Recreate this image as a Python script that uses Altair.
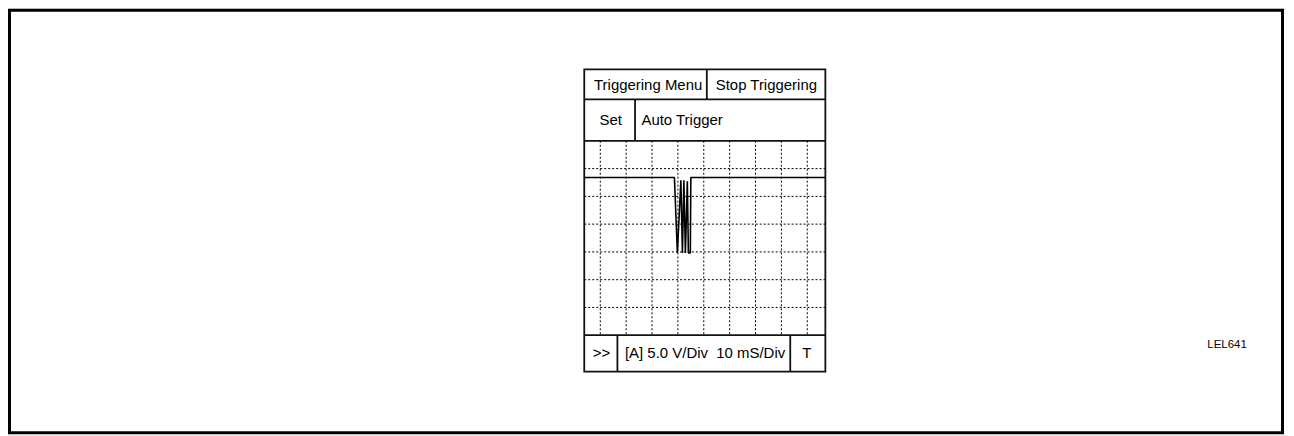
import altair as alt
import pandas as pd

# ---------------- data ----------------
# Oscilloscope trace: time (ms) and voltage (V)
trace_time_ms = [-36.2, -1.35, -0.2, 1.15, 1.75, 2.3, 2.9, 3.65, 4.05, 4.8, 5.0, 57.0]
trace_volts = [13.4, 13.4, -0.2, 12.9, -0.2, 12.9, -0.2, 12.7, -0.2, -0.2, 13.4, 13.4]

# Grid divisions (10 mS/Div, 5.0 V/Div)
time_divs_ms = [-30, -20, -10, 0, 10, 20, 30, 40, 50]
volt_divs = [15, 10, 5, 0, -5, -10]

# Texts
menu_labels = ["Triggering Menu", "Stop Triggering"]
mode_labels = ["Set", "Auto Trigger"]
status_labels = [">>", "[A] 5.0 V/Div\u00a0 10 mS/Div", "T"]
figure_code = "LEL641"

# ---------------- layout ----------------
W, H = 1282, 428
PX_MS = 2.595      # pixels per ms (25.95 px per 10 ms division)
PX_V = 5.572       # pixels per volt (27.86 px per 5 V division)
T0_X = 672         # chart x of t = 0
V0_Y = 244         # chart y of 0 V

x_dom = [(0 - T0_X) / PX_MS, (W - T0_X) / PX_MS]
y_dom = [(V0_Y - H) / PX_V, (V0_Y - 0) / PX_V]
xs = alt.Scale(domain=x_dom, nice=False, zero=False)
ys = alt.Scale(domain=y_dom, nice=False, zero=False)

# screen / panel extents in scope units
T_L, T_R = -36.2, 57.0
V_TOP, V_ROW1, V_GTOP, V_GBOT, V_BOT = 32.85, 27.45, 20.0, -15.0, -21.55
T_DIV_MENU, T_DIV_SET = 11.18, -16.57
T_DIV_F1, T_DIV_F2 = -23.39, 43.43

FONT = "Liberation Sans"
FS = 15
LW = 1.8

# grid dashed lines
vgrid = pd.DataFrame({"t": time_divs_ms, "t2": time_divs_ms,
                      "v": [V_GTOP] * len(time_divs_ms), "v2": [V_GBOT] * len(time_divs_ms)})
hgrid = pd.DataFrame({"t": [T_L] * len(volt_divs), "t2": [T_R] * len(volt_divs),
                      "v": volt_divs, "v2": volt_divs})

grid_v = alt.Chart(vgrid).mark_rule(strokeDash=[2, 2], strokeWidth=1, color="#000").encode(
    x=alt.X("t:Q", scale=xs, axis=None), x2="t2:Q",
    y=alt.Y("v:Q", scale=ys, axis=None), y2="v2:Q")
grid_h = alt.Chart(hgrid).mark_rule(strokeDash=[2, 2], strokeWidth=1, color="#000").encode(
    x=alt.X("t:Q", scale=xs, axis=None), x2="t2:Q",
    y=alt.Y("v:Q", scale=ys, axis=None), y2="v2:Q")

# solid panel lines
seg = pd.DataFrame({
    "t":  [T_L, T_L, T_L, T_DIV_MENU, T_DIV_SET, T_DIV_F1, T_DIV_F2],
    "t2": [T_R, T_R, T_R, T_DIV_MENU, T_DIV_SET, T_DIV_F1, T_DIV_F2],
    "v":  [V_ROW1, V_GTOP, V_GBOT, V_TOP, V_ROW1, V_GBOT, V_GBOT],
    "v2": [V_ROW1, V_GTOP, V_GBOT, V_ROW1, V_GTOP, V_BOT, V_BOT],
})
panel_lines = alt.Chart(seg).mark_rule(strokeWidth=LW, color="#111").encode(
    x=alt.X("t:Q", scale=xs, axis=None), x2="t2:Q",
    y=alt.Y("v:Q", scale=ys, axis=None), y2="v2:Q")

panel_box = alt.Chart(pd.DataFrame({"t": [T_L], "t2": [T_R], "v": [V_TOP], "v2": [V_BOT]})).mark_rect(
    fill=None, stroke="#111", strokeWidth=LW).encode(
    x=alt.X("t:Q", scale=xs, axis=None), x2="t2:Q",
    y=alt.Y("v:Q", scale=ys, axis=None), y2="v2:Q")

# trace
tr = pd.DataFrame({"t": trace_time_ms, "v": trace_volts, "i": list(range(len(trace_time_ms)))})
trace = alt.Chart(tr).mark_line(color="#000", strokeWidth=1.6, strokeJoin="bevel").encode(
    x=alt.X("t:Q", scale=xs, axis=None),
    y=alt.Y("v:Q", scale=ys, axis=None),
    order="i:Q")

# texts
txt_center = pd.DataFrame({
    "label": [menu_labels[0], menu_labels[1], mode_labels[0], status_labels[0], status_labels[1], status_labels[2]],
    "t": [-11.5, 34.2, -26.0, -29.5, 10.5, 49.8],
    "v": [30.1, 30.1, 23.69, -18.18, -18.18, -18.18],
})
texts_c = alt.Chart(txt_center).mark_text(font=FONT, fontSize=FS, color="#000",
                                          align="center", baseline="middle").encode(
    x=alt.X("t:Q", scale=xs, axis=None), y=alt.Y("v:Q", scale=ys, axis=None), text="label:N")

txt_left = pd.DataFrame({"label": [mode_labels[1]], "t": [-14.1], "v": [23.69]})
texts_l = alt.Chart(txt_left).mark_text(font=FONT, fontSize=FS, color="#000",
                                        align="left", baseline="middle").encode(
    x=alt.X("t:Q", scale=xs, axis=None), y=alt.Y("v:Q", scale=ys, axis=None), text="label:N")

code_df = pd.DataFrame({"label": [figure_code], "t": [212.3], "v": [-16.7]})
code_txt = alt.Chart(code_df).mark_text(font=FONT, fontSize=11.5, color="#000",
                                        align="center", baseline="middle").encode(
    x=alt.X("t:Q", scale=xs, axis=None), y=alt.Y("v:Q", scale=ys, axis=None), text="label:N")

# outer frame of the figure
frame = alt.Chart(pd.DataFrame({"k": [0]})).mark_rect(fill=None, stroke="#000", strokeWidth=3).encode(
    x=alt.value(1.5), x2=alt.value(W - 3.5), y=alt.value(1.5), y2=alt.value(H - 2.5))

chart = alt.layer(frame, grid_v, grid_h, panel_lines, panel_box, trace, texts_c, texts_l, code_txt).properties(
    width=W, height=H, autosize=alt.AutoSizeParams(type="none"), padding=0
).configure_view(stroke=None).configure(background="white")

chart.save("out.html", embed_options={"renderer": "svg", "actions": False})
